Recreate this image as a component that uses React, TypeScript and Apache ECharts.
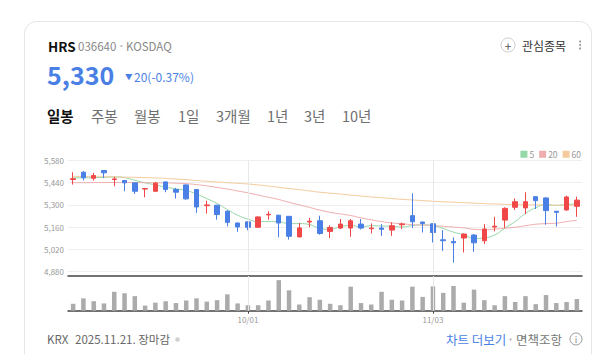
import React, { useEffect, useRef } from "react";
import * as echarts from "echarts";

const dates = [
  "09/08", "09/09", "09/10", "09/11", "09/12", "09/15", "09/16", "09/17", "09/18", "09/19",
  "09/22", "09/23", "09/24", "09/25", "09/26", "09/29", "09/30", "10/01", "10/02", "10/10",
  "10/13", "10/14", "10/15", "10/16", "10/17", "10/20", "10/21", "10/22", "10/23", "10/24",
  "10/27", "10/28", "10/29", "10/30", "10/31", "11/03", "11/04", "11/05", "11/06", "11/07",
  "11/10", "11/11", "11/12", "11/13", "11/14", "11/17", "11/18", "11/19", "11/20", "11/21",
];
const opens = [
  5460, 5506, 5468, 5517, 5460, 5454, 5439, 5400, 5386, 5445,
  5397, 5426, 5397, 5295, 5298, 5260, 5186, 5193, 5159, 5237,
  5235, 5228, 5098, 5192, 5200, 5133, 5154, 5154, 5179, 5150,
  5154, 5141, 5175, 5232, 5192, 5181, 5080, 5069, 5091, 5110,
  5074, 5160, 5204, 5285, 5281, 5352, 5344, 5260, 5268, 5291,
];
const closes = [
  5465, 5471, 5485, 5502, 5464, 5439, 5386, 5403, 5437, 5397,
  5380, 5338, 5287, 5300, 5239, 5190, 5161, 5159, 5224, 5241,
  5186, 5102, 5155, 5197, 5120, 5158, 5179, 5200, 5154, 5154,
  5146, 5169, 5180, 5194, 5183, 5126, 5074, 5061, 5116, 5061,
  5148, 5166, 5278, 5320, 5320, 5327, 5264, 5253, 5350, 5330,
];
const lows = [
  5428, 5454, 5454, 5470, 5418, 5386, 5369, 5348, 5384, 5380,
  5340, 5332, 5250, 5245, 5207, 5165, 5130, 5140, 5155, 5207,
  5096, 5081, 5096, 5159, 5112, 5091, 5148, 5099, 5145, 5120,
  5105, 5105, 5148, 5154, 5126, 5063, 5010, 4936, 5000, 5004,
  5053, 5133, 5154, 5268, 5242, 5274, 5175, 5164, 5264, 5225,
];
const highs = [
  5506, 5513, 5502, 5519, 5477, 5456, 5441, 5405, 5445, 5447,
  5407, 5428, 5399, 5327, 5300, 5266, 5188, 5195, 5228, 5260,
  5238, 5230, 5186, 5218, 5232, 5171, 5211, 5211, 5211, 5183,
  5179, 5190, 5188, 5373, 5194, 5183, 5141, 5095, 5120, 5116,
  5179, 5225, 5285, 5341, 5380, 5352, 5348, 5262, 5358, 5352,
];
const volumes = [
  19000, 34000, 26000, 20000, 52000, 48000, 40000, 14000, 22000, 26000,
  21000, 28000, 34000, 25000, 29000, 45000, 20000, 15000, 15000, 28000,
  84000, 56000, 17000, 37000, 30000, 19000, 15000, 66000, 21000, 17000,
  52000, 30000, 28000, 66000, 38000, 67000, 49000, 68000, 22000, 58000,
  29000, 15000, 40000, 24000, 40000, 18000, 43000, 21000, 24000, 32000,
];
const ma5 = [
  5470, 5471, 5472, 5474, 5477, 5472, 5455, 5439, 5426, 5412,
  5401, 5391, 5368, 5340, 5309, 5271, 5235, 5210, 5195, 5195,
  5194, 5182, 5182, 5176, 5152, 5146, 5162, 5171, 5162, 5169,
  5167, 5165, 5161, 5169, 5174, 5170, 5151, 5128, 5112, 5088,
  5092, 5110, 5154, 5195, 5246, 5282, 5302, 5297, 5303, 5305,
];
const ma20 = [
  5440, 5440, 5441, 5441, 5441, 5441, 5441, 5440, 5440, 5439,
  5437, 5434, 5428, 5420, 5410, 5400, 5388, 5376, 5362, 5348,
  5334, 5316, 5300, 5284, 5267, 5253, 5243, 5233, 5218, 5206,
  5195, 5186, 5181, 5175, 5173, 5169, 5165, 5160, 5155, 5146,
  5144, 5147, 5153, 5159, 5169, 5178, 5182, 5185, 5195, 5203,
];
const ma60 = [
  5480, 5479, 5478, 5477, 5476, 5475, 5474, 5472, 5470, 5467,
  5463, 5459, 5454, 5449, 5444, 5440, 5436, 5432, 5426, 5419,
  5411, 5403, 5396, 5388, 5380, 5374, 5368, 5362, 5356, 5350,
  5345, 5340, 5335, 5331, 5327, 5323, 5320, 5317, 5314, 5311,
  5308, 5306, 5304, 5302, 5301, 5300, 5299, 5298, 5298, 5297,
];
const maNames = ["5", "20", "60"];
const tabs = ["일봉", "주봉", "월봉", "1일", "3개월", "1년", "3년", "10년"];
const priceMin = 4880;
const priceMax = 5580;
const priceStep = 140;

const FONT = "'Noto Sans CJK KR', 'Noto Sans', sans-serif";
const RED = "#f04848";
const BLUE = "#4a7fe6";
const MA_COLORS = ["#94d8a8", "#f0adad", "#f4cb9c"];
const TAB_X = [47, 91, 134, 178, 216, 267, 304, 342];

const isMonthStart = (i: number) =>
  i > 0 && dates[i].slice(0, 2) !== dates[i - 1].slice(0, 2);
const monthStarts = dates.filter((_, i) => isMonthStart(i));

export default function App() {
  const ref = useRef<HTMLDivElement>(null);
  useEffect(() => {
    const chart = echarts.init(ref.current!, null, { renderer: "svg" });
    const vline = {
      silent: true,
      symbol: ["none", "none"],
      label: { show: false },
      lineStyle: { color: "#e8e8e8", type: "solid", width: 1 },
      data: monthStarts.map((d) => ({ xAxis: d })),
    };
    const txt = (x: number, y: number, text: string, size: number, fill: string, weight: any = "normal", align: any = "left") => ({
      type: "text",
      x,
      y,
      style: { text, fontSize: size, fill, fontWeight: weight, fontFamily: FONT, align, verticalAlign: "middle" },
    });
    const option: any = {
      animation: false,
      textStyle: { fontFamily: FONT },
      legend: {
        data: maNames,
        right: 19,
        top: 150,
        icon: "rect",
        itemWidth: 7,
        itemHeight: 7,
        itemGap: 5,
        padding: 0,
        textStyle: { fontSize: 8.5, color: "#999", fontFamily: FONT, padding: [0, 0, 0, -3] },
        selectedMode: false,
      },
      graphic: [
        {
          type: "rect",
          z: -10,
          shape: { x: 24.5, y: 21.5, width: 567, height: 380, r: 12 },
          style: { fill: "#fff", stroke: "#e6e6e6", lineWidth: 1 },
        },
        txt(48, 46, "HRS", 13.5, "#111", "bold"),
        txt(78, 46, "036640", 11.5, "#888"),
        { type: "circle", shape: { cx: 121.5, cy: 46, r: 1.1 }, style: { fill: "#bbb" } },
        txt(126, 46, "KOSDAQ", 11.5, "#888"),
        txt(47, 74, "5,330", 25, BLUE, "bold"),
        txt(125, 76, "▼", 7.5, BLUE),
        txt(134, 76, "20(-0.37%)", 12, BLUE),
        { type: "circle", shape: { cx: 508, cy: 45, r: 7 }, style: { fill: "#fff", stroke: "#cfcfcf", lineWidth: 1 } },
        txt(508, 45, "+", 12, "#555", "normal", "center"),
        txt(522, 45, "관심종목", 12, "#333"),
        { type: "circle", shape: { cx: 580, cy: 41.5, r: 1 }, style: { fill: "#999" } },
        { type: "circle", shape: { cx: 580, cy: 45, r: 1 }, style: { fill: "#999" } },
        { type: "circle", shape: { cx: 580, cy: 48.5, r: 1 }, style: { fill: "#999" } },
        ...tabs.map((t, i) => txt(TAB_X[i], 115, t, 14.5, i === 0 ? "#111" : "#6f6f6f", i === 0 ? "bold" : "normal")),
        txt(47, 339, "KRX", 11.5, "#666"),
        txt(75, 339, "2025.11.21. 장마감", 11.5, "#666"),
        { type: "circle", shape: { cx: 177.5, cy: 339.5, r: 2.3 }, style: { fill: "#d0d0d0" } },
        txt(446, 339, "차트 더보기", 12.5, BLUE),
        { type: "circle", shape: { cx: 510.5, cy: 339.5, r: 1 }, style: { fill: "#aaa" } },
        txt(516, 339, "면책조항", 12.5, "#777"),
        { type: "circle", shape: { cx: 576, cy: 339, r: 6 }, style: { fill: "none", stroke: "#999", lineWidth: 1 } },
        txt(576, 339.5, "i", 9, "#888", "normal", "center"),
      ],
      grid: [
        { left: 68, top: 160.5, width: 514, height: 111 },
        { left: 68, top: 276, width: 514, height: 34.7 },
      ],
      xAxis: [
        {
          type: "category",
          gridIndex: 0,
          data: dates,
          boundaryGap: true,
          axisLine: { show: false },
          axisTick: { show: false },
          axisLabel: { show: false },
          splitLine: { show: false },
        },
        {
          type: "category",
          gridIndex: 1,
          data: dates,
          position: "bottom",
          boundaryGap: true,
          axisLine: { lineStyle: { color: "#444", width: 1.5 } },
          axisTick: {
            show: true,
            alignWithLabel: true,
            interval: (i: number) => isMonthStart(i),
            length: 3,
            lineStyle: { color: "#444" },
          },
          axisLabel: {
            interval: (i: number) => isMonthStart(i),
            fontSize: 8,
            color: "#999",
            margin: 5,
            fontFamily: FONT,
          },
          splitLine: { show: false },
        },
        {
          type: "category",
          gridIndex: 1,
          data: dates,
          position: "top",
          boundaryGap: true,
          axisLine: { lineStyle: { color: "#444", width: 1.5 } },
          axisTick: { show: false },
          axisLabel: { show: false },
        },
      ],
      yAxis: [
        {
          type: "value",
          gridIndex: 0,
          min: priceMin,
          max: priceMax,
          interval: priceStep,
          axisLine: { show: false },
          axisTick: { show: false },
          axisLabel: {
            fontSize: 8,
            color: "#999",
            margin: 4,
            fontFamily: FONT,
            formatter: (v: number) => v.toLocaleString("en-US"),
          },
          splitLine: { lineStyle: { color: "#efefef", width: 1 } },
        },
        {
          type: "value",
          gridIndex: 1,
          min: 0,
          max: 95400,
          show: false,
          splitLine: { show: false },
        },
      ],
      series: [
        {
          type: "candlestick",
          name: "K",
          xAxisIndex: 0,
          yAxisIndex: 0,
          barWidth: 5,
          data: dates.map((_, i) => [opens[i], closes[i], lows[i], highs[i]]),
          itemStyle: { color: RED, color0: BLUE, borderColor: RED, borderColor0: BLUE, borderWidth: 1 },
          markLine: vline,
          z: 3,
        },
        ...[ma5, ma20, ma60].map((d, k) => ({
          type: "line",
          name: maNames[k],
          xAxisIndex: 0,
          yAxisIndex: 0,
          data: d,
          smooth: true,
          showSymbol: false,
          symbol: "none",
          color: MA_COLORS[k],
          lineStyle: { width: 1, color: MA_COLORS[k] },
          itemStyle: { color: MA_COLORS[k] },
          z: 2,
        })),
        {
          type: "bar",
          name: "vol",
          xAxisIndex: 1,
          yAxisIndex: 1,
          barWidth: 4.5,
          data: volumes,
          itemStyle: { color: "#ababab" },
          markLine: vline,
        },
      ],
    };
    chart.setOption(option);
    return () => chart.dispose();
  }, []);
  return (
    <div
      ref={ref}
      style={{ position: "absolute", left: 0, top: 0, width: 600, height: 354, background: "#fff" }}
    />
  );
}
